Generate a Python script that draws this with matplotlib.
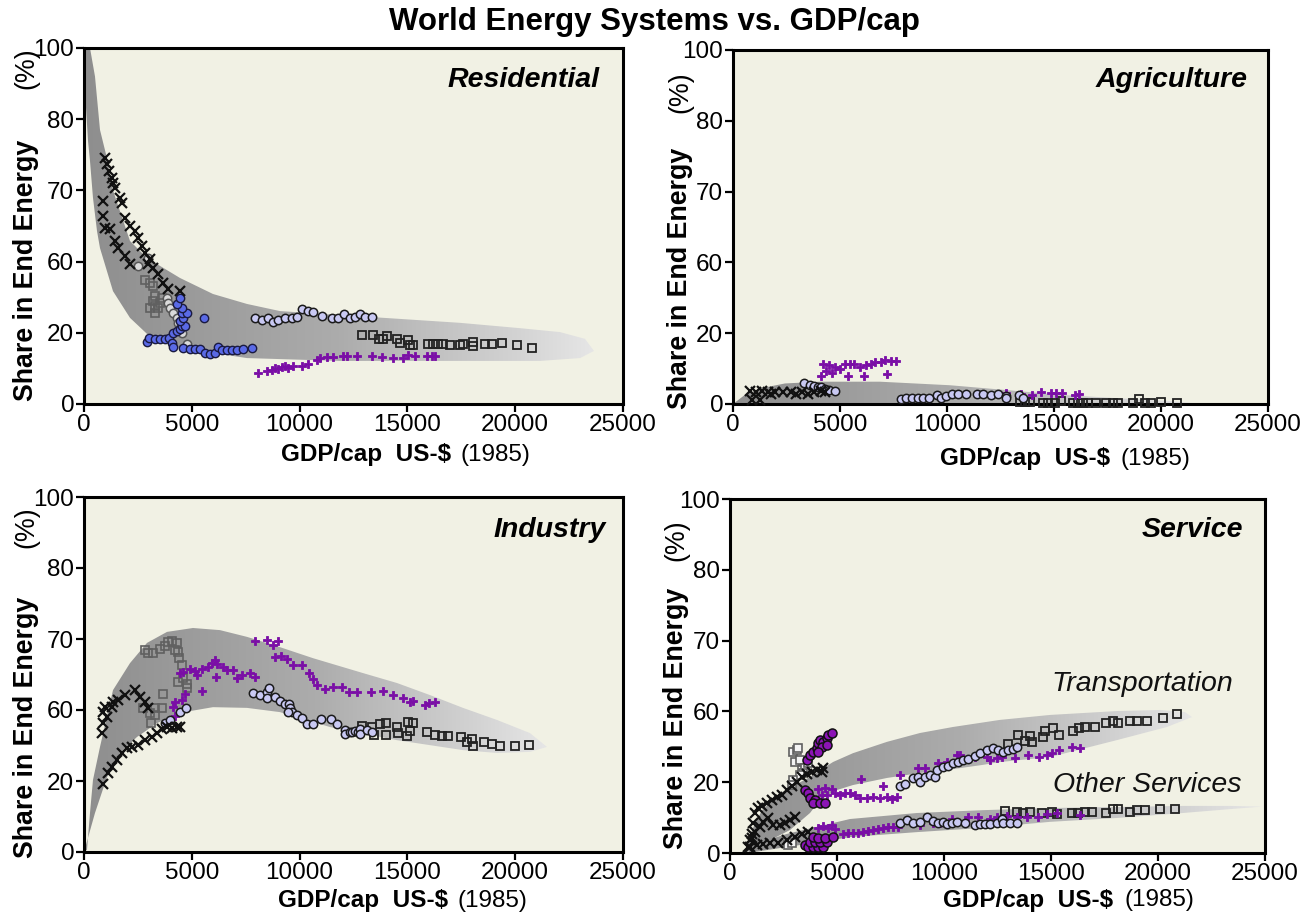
import numpy as np
import matplotlib.pyplot as plt
from matplotlib.patches import Polygon
from matplotlib.colors import LinearSegmentedColormap

plt.rcParams['font.family'] = ['Liberation Sans', 'DejaVu Sans']

# y values are read against the axis positions (ticks labelled 0,20,60,70,80,100)
y_ticks = [0, 20, 40, 60, 80, 100]
y_tick_labels = ['0', '20', '60', '70', '80', '100']
x_ticks = [0, 5000, 10000, 15000, 20000, 25000]

# ---------------- Residential ----------------
res_cross_x = [974, 1067, 1160, 1299, 1345, 1438, 1670, 1762, 1902, 2133, 2365, 2505, 2690, 2829, 3061, 3200, 3432, 3664, 3896, 4452,
               881, 881, 974, 1206, 1438, 1577, 1902, 2133, 2968]
res_cross_y = [69.1, 67.4, 65.4, 63.5, 62.1, 60.7, 57.9, 56.5, 52.2, 50.0, 48.6, 46.6, 44.4, 42.4, 40.7, 38.2, 36.5, 34.0, 32.3, 31.7,
               57.0, 52.8, 49.4, 49.2, 45.8, 43.8, 41.6, 39.3, 39.3]
res_sqg_x = [2829, 3061, 3200, 3293, 3200, 3293, 3061, 3432, 3293, 3618, 3525]
res_sqg_y = [34.8, 34.0, 33.1, 30.3, 28.9, 27.5, 27.0, 27.0, 25.6, 29.8, 28.4]
res_cg_x = [2505, 2968, 3850, 3896, 3989, 4128, 4313, 4360, 4452, 4545, 4777]
res_cg_y = [38.8, 41.0, 29.8, 28.4, 27.0, 25.6, 24.2, 22.8, 21.3, 19.9, 16.9]
res_blue_x = [2922, 3015, 3293, 3525, 3757, 3942, 4081, 4128, 4128, 4313, 4452, 4545, 4684, 4452, 4592, 4545, 4777, 4545,
              4313, 4452, 4592, 4916, 5148, 5380, 5612, 5844, 6076, 6215, 6400, 6632, 6864, 7096, 7374, 7792, 5566]
res_blue_y = [17.4, 18.5, 18.3, 18.3, 18.3, 18.5, 17.1, 16.0, 19.9, 20.5, 21.1, 21.9, 21.9, 23.3, 24.2, 25.6, 25.6, 27.0,
              28.1, 29.8, 15.7, 15.4, 15.4, 15.4, 14.3, 14.0, 14.3, 16.0, 15.2, 15.2, 15.2, 15.2, 15.4, 15.7, 24.2]
res_lav_x = [7931, 8256, 8534, 8766, 8998, 9322, 9647, 9879, 10111, 10389, 10621, 11039, 11502, 11781, 12059, 12337,
             12569, 12801, 13033, 13357]
res_lav_y = [24.2, 23.6, 24.2, 23.0, 23.6, 24.2, 24.2, 24.4, 26.7, 26.1, 25.8, 24.7, 24.2, 24.2, 25.3, 24.2,
             24.4, 25.3, 24.4, 24.4]
res_sq_x = [12894, 13404, 13682, 13868, 14053, 14517, 14656, 15027, 15120, 15259, 15955, 16187, 16419, 16650, 16975,
            17439, 17578, 18042, 18042, 18598, 18923, 19387, 20083, 20778]
res_sq_y = [19.4, 19.4, 18.3, 18.3, 19.1, 18.3, 17.1, 18.0, 16.6, 16.6, 16.9, 16.9, 16.9, 16.9, 16.6,
            16.6, 16.9, 17.4, 16.3, 16.9, 16.9, 17.1, 16.6, 15.7]
res_plus_x = [8070, 8488, 8719, 8859, 8998, 9183, 9322, 9462, 9694, 10111, 10389, 10807, 10946, 11270, 11549, 12012,
              12198, 12662, 13357, 13821, 14331, 14794, 15027, 15352, 15908, 16140, 16279]
res_plus_y = [8.7, 9.3, 9.6, 10.1, 9.8, 10.4, 10.7, 10.1, 10.7, 10.7, 11.2, 12.4, 12.9, 13.2, 13.2, 13.5,
              13.5, 13.5, 13.5, 13.2, 12.9, 12.9, 13.8, 13.5, 13.5, 13.5, 13.5]
res_up_x = [0, 278, 510, 742, 1067, 1345, 2133, 2922, 4452, 5983, 7560, 9091, 11873, 14656, 17439, 20222, 22077, 23237, 23654]
res_up_y = [108, 100, 92, 77, 69, 60, 45.8, 41.0, 35.4, 30.9, 28.1, 26.1, 25.0, 23.9, 22.8, 21.3, 20.2, 18.3, 14.9]
res_lo_x = [0, 186, 278, 417, 603, 742, 1345, 2133, 2922, 4452, 7560, 11873, 16975, 21150, 23005, 23654]
res_lo_y = [92.7, 73.9, 68.3, 57.9, 48.6, 43.8, 31.7, 24.2, 19.7, 15.7, 12.9, 12.1, 12.1, 12.1, 12.9, 14.9]

# ---------------- Agriculture ----------------
agr_cross_x = [813, 1083, 1350, 1620, 1798, 1980, 2340, 2699, 2965, 3236, 3507, 3773, 4133, 4315, 901, 1261]
agr_cross_y = [3.6, 3.3, 3.6, 3.3, 2.9, 3.3, 3.3, 3.3, 2.8, 3.3, 2.8, 3.3, 3.7, 3.3, 1.0, 1.0]
agr_lav_x = [3325, 3596, 3773, 3955, 4133, 4315, 4493, 4763, 7869, 8088, 8355, 8625, 8896, 9163, 9522, 9704, 9970,
             10241, 10512, 10872, 11409, 11680, 12039, 12399, 12758, 12758, 13384, 13567]
agr_lav_y = [6.0, 5.4, 5.1, 4.7, 4.9, 4.3, 4.0, 3.8, 1.3, 1.6, 1.8, 1.8, 1.6, 1.8, 2.5, 1.8, 2.2,
             2.7, 2.9, 2.9, 2.9, 2.7, 2.5, 2.9, 2.2, 1.6, 2.5, 1.8]
agr_plus_x = [4226, 4493, 4763, 4997, 5212, 5483, 5660, 5931, 6202, 6435, 6650, 6921, 7098, 7369, 7635,
              4133, 4352, 4637, 5394, 6108, 7187,
              12758, 13473, 13977, 14374, 14874, 15093, 15360, 15990, 16168]
agr_plus_y = [11.4, 10.9, 10.4, 10.0, 11.4, 11.4, 11.4, 10.4, 10.9, 11.4, 11.8, 12.0, 12.4, 12.2, 12.2,
              8.0, 9.3, 8.8, 8.0, 8.0, 8.6,
              3.0, 2.8, 2.5, 3.5, 3.0, 3.0, 3.0, 2.6, 2.8]
agr_sq_x = [13403, 13636, 13870, 14491, 14725, 15037, 15350, 15892, 16126, 16359, 16593, 16985, 17452, 17760, 17994,
            18694, 18974, 19240, 19553, 20020, 20749]
agr_sq_y = [0.6, 0.6, 0.6, 0.2, 0.4, 0.4, 0.9, 0.4, 0.4, 0.4, 0.4, 0.4, 0.4, 0.4, 0.4,
            0.4, 1.3, 0.4, 0.4, 0.6, 0.4]
agr_up_x = [0, 560, 1261, 2428, 4063, 6865, 10134, 12469, 15271, 18073, 20408, 21575]
agr_up_y = [0, 2.6, 4.4, 5.8, 6.3, 6.3, 5.3, 4.1, 2.6, 1.6, 0.85, 0.2]
agr_lo_x = [0, 21575]
agr_lo_y = [0, 0]

# ---------------- Industry ----------------
ind_cross_x = [835, 881, 881, 1067, 974, 1299, 1345, 1577, 1902, 2365, 2597, 2829, 2968,
               881, 1113, 1299, 1531, 1762, 1994, 2226, 2505, 2829, 3154, 3386, 3618, 3850, 4081, 4313, 4452]
ind_cross_y = [33.5, 36.3, 39.4, 38.0, 40.8, 40.8, 42.3, 42.8, 44.2, 45.6, 43.7, 42.3, 40.6,
               19.2, 22.3, 23.9, 25.9, 27.9, 29.3, 29.6, 30.1, 31.5, 32.4, 33.5, 34.6, 35.2, 34.9, 35.2, 35.2]
ind_sqg_x = [2829, 2968, 3200, 3525, 3757, 3896, 4081, 4313, 4221, 4360, 4406, 4545, 4592, 4360, 4777, 4777,
             3664, 2736, 3061, 3293, 3618, 3293, 3107]
ind_sqg_y = [56.9, 56.1, 56.1, 57.2, 58.0, 59.2, 59.4, 58.9, 56.9, 56.3, 54.6, 52.7, 49.0, 47.9, 47.3, 46.2,
             44.5, 40.6, 39.2, 40.6, 40.6, 38.6, 36.3]
ind_lav_x = [3757, 3989, 4452, 4731, 7838, 8163, 8488, 8580, 8488, 8859, 9091, 9322, 9508, 9554, 9647, 9462, 9879,
             10111, 10343, 10621, 10992, 11456, 11734, 12105, 12105, 12337, 12430, 12569, 12708, 12801, 12801, 13126, 13357]
ind_lav_y = [36.3, 37.2, 39.4, 40.6, 44.8, 44.2, 45.1, 46.2, 43.4, 43.7, 42.5, 41.7, 41.7, 40.6, 39.4, 39.4, 38.6,
             37.7, 36.1, 36.1, 37.5, 37.5, 36.1, 34.4, 33.2, 33.8, 33.8, 34.1, 33.8, 34.6, 33.2, 34.4, 33.8]
ind_sq_x = [12894, 13357, 13450, 13728, 14007, 14007, 14517, 14563, 15027, 15259, 15120, 14981, 15908, 16279, 16604,
            16882, 17485, 17764, 17995, 18042, 18552, 18923, 19294, 19990, 20639]
ind_sq_y = [35.5, 35.2, 33.0, 36.1, 36.3, 33.0, 35.2, 33.5, 36.6, 36.3, 34.1, 32.7, 33.8, 33.0, 32.7,
            32.7, 32.4, 31.0, 31.8, 29.9, 31.0, 30.4, 29.9, 29.9, 30.1]
ind_plus_x = [4452, 4592, 4916, 5148, 5241, 5473, 5751, 5937, 6076, 6169, 6447, 6632, 6911, 7096, 7328, 7699, 7931,
              6122, 5473, 4684, 4545, 4221, 4128, 4221,
              7931, 8488, 8766, 8998, 8859, 9137, 9415, 9694, 10111, 10436, 10621, 10807, 11178, 11549, 11966, 12291,
              12662, 13311, 13868, 14331, 14794, 15120, 15259, 15816, 16001, 16279]
ind_plus_y = [50.4, 50.7, 51.5, 51.0, 49.9, 51.5, 52.1, 53.2, 54.1, 53.0, 52.1, 51.3, 51.3, 49.0, 49.9, 50.4, 49.3,
              49.3, 45.4, 44.5, 42.8, 42.3, 40.8, 38.3,
              59.4, 59.7, 58.3, 59.4, 54.9, 55.2, 54.4, 52.7, 52.7, 50.4, 48.7, 47.0, 45.9, 46.5, 46.5, 45.1,
              45.1, 45.1, 45.4, 44.2, 43.4, 42.3, 42.5, 41.4, 42.0, 42.3]
ind_up_x = [0, 139, 278, 417, 742, 1345, 2133, 2922, 3850, 5055, 6308, 7560, 9091, 10621, 12940, 14517, 16048,
            17578, 19154, 20685, 21474]
ind_up_y = [0, 0.6, 11.0, 20.3, 29.6, 45.6, 53.2, 58.9, 62.0, 63.1, 62.5, 60.6, 57.7, 54.6, 50.4, 47.6, 44.2,
            40.6, 37.2, 33.5, 29.6]
ind_lo_x = [0, 510, 1067, 1670, 2458, 3386, 4452, 5983, 7560, 9091, 11410, 14517, 17578, 19154, 20685, 21474]
ind_lo_y = [0, 11.0, 21.1, 27.9, 32.4, 36.3, 39.2, 40.8, 40.6, 39.4, 35.2, 31.5, 28.7, 27.9, 28.2, 29.6]

# ---------------- Service ----------------
ser_cross_x = [855, 935, 1014, 1089, 1168, 1323, 1481, 1715, 1949, 2182, 2416, 2650, 2883, 3117, 3351, 3584, 3818,
               4052, 4285, 4360,
               1014, 1168, 1402, 1556, 1790, 2023, 2337, 2570, 2804, 3037,
               935, 1248, 1556, 1869, 2257, 2650, 3037, 3351, 3659]
ser_cross_y = [1.8, 3.7, 5.5, 8.4, 11.2, 12.6, 13.3, 14.0, 15.0, 15.7, 16.4, 17.8, 18.9, 20.1, 21.4, 22.3, 23.0,
               23.4, 23.0, 23.9,
               4.2, 6.0, 7.4, 8.8, 9.8, 7.9, 7.9, 8.4, 9.3, 10.1,
               1.8, 2.3, 2.5, 2.7, 2.9, 3.7, 4.6, 5.4, 6.0]
ser_sqg_x = [2958, 3117, 3192, 3037, 3271, 3351, 3505, 3425, 3271, 2958, 2883, 3659, 2724, 2883]
ser_sqg_y = [28.6, 29.1, 29.6, 25.8, 26.3, 23.4, 23.9, 22.5, 22.0, 20.6, 19.2, 25.3, 2.3, 2.7]
ser_pc_x = [3584, 3738, 3893, 4052, 4126, 4206, 4360, 4519, 4594, 4752, 4285, 4519, 4126,
            3505, 3659, 3738, 3972, 3893, 4206, 4439,
            3505, 3659, 3893, 4126, 4360, 3738, 3972, 4206, 4519, 3893, 4126, 4439, 4827]
ser_pc_y = [26.3, 27.7, 28.6, 29.6, 31.0, 31.9, 31.4, 32.4, 33.3, 33.8, 30.0, 30.5, 28.6,
            17.8, 16.9, 15.5, 15.0, 14.0, 14.0, 14.0,
            2.3, 1.8, 1.8, 1.8, 1.8, 3.2, 3.2, 3.2, 3.2, 4.6, 4.2, 4.2, 4.4]
tr_plus_x = [4126, 4439, 4752, 4285, 4519, 4907, 5140, 5374, 5608, 5841, 6075, 6388, 6696, 7010, 7323, 7556, 7790,
             6122, 7164, 7944, 8799, 9112, 9734, 10127, 10594, 10748, 11449, 11996, 12150, 12463, 12697, 13318,
             13940, 14454, 14800, 15033, 15388, 15968, 16356]
tr_plus_y = [18.0, 18.3, 18.0, 16.4, 16.4, 16.9, 16.4, 17.0, 16.9, 16.4, 15.5, 15.5, 15.9, 15.5, 15.9, 15.2, 15.9,
             20.8, 18.9, 22.0, 23.9, 23.9, 25.3, 25.8, 27.7, 27.8, 27.2, 27.2, 26.3, 26.8, 27.2, 26.8,
             27.7, 27.2, 27.7, 28.3, 29.1, 29.9, 29.6]
os_plus_x = [4126, 4360, 4594, 4752, 4907, 5294, 5528, 5762, 5995, 6229, 6463, 6696, 6930, 7164, 7397, 7631, 7865,
             8491, 8879, 9500, 9813, 10360, 11136, 11603, 12150, 12463, 12930, 13398, 13865, 14407, 14800, 15267, 16356]
os_plus_y = [7.0, 7.6, 7.0, 7.9, 6.7, 5.4, 5.6, 5.6, 5.7, 6.0, 6.3, 6.5, 6.7, 7.0, 7.3, 7.4, 7.3,
             8.4, 7.9, 8.6, 8.4, 9.5, 10.1, 10.1, 9.5, 10.1, 10.5, 10.3, 10.1, 10.3, 11.0, 11.2, 10.7]
tr_lav_x = [7944, 8178, 8566, 8799, 8879, 9112, 9346, 9580, 9659, 9968, 10201, 10435, 10668, 10902, 11136, 11449,
            11683, 11996, 12304, 12538, 12771, 13005, 13239, 13398]
tr_lav_y = [18.9, 19.5, 21.1, 21.6, 20.1, 21.6, 22.0, 21.6, 23.4, 24.4, 24.6, 25.3, 25.8, 26.3, 26.5, 27.4,
            28.3, 29.1, 29.6, 29.1, 28.6, 29.1, 29.3, 29.9]
os_lav_x = [7944, 8258, 8566, 8879, 9220, 9500, 9734, 9968, 10127, 10360, 10594, 10982, 11449, 11683, 11916, 12150,
            12463, 12697, 12771, 13084, 13398]
os_lav_y = [8.6, 9.3, 8.6, 8.8, 10.1, 9.1, 8.6, 8.8, 8.2, 8.4, 8.7, 8.4, 7.9, 8.2, 8.2, 8.2,
            8.6, 9.5, 8.6, 8.4, 8.6]
tr_sq_x = [13005, 13472, 13785, 14019, 14098, 14613, 14720, 15108, 15388, 16042, 16323, 16589, 17056, 17570, 17912,
           18146, 18692, 19005, 19472, 20248, 20874]
tr_sq_y = [30.8, 33.3, 31.7, 33.1, 31.4, 32.9, 34.5, 35.2, 33.3, 34.5, 35.2, 35.7, 35.7, 36.6, 37.4,
           36.8, 37.4, 37.4, 37.4, 38.1, 39.3]
os_sq_x = [12851, 13398, 13706, 14019, 14566, 15033, 15267, 15968, 16276, 16589, 16902, 17570, 17912, 18146, 18692,
           19005, 19393, 20094, 20795]
os_sq_y = [11.9, 11.7, 11.4, 11.7, 11.2, 11.7, 11.0, 11.4, 11.4, 11.7, 11.7, 11.4, 12.3, 12.3, 11.7,
           12.1, 12.1, 12.3, 12.3]
tr_up_x = [701, 1028, 1495, 2337, 3738, 4813, 5748, 7337, 8879, 10421, 12617, 14954, 18085, 20094, 21262, 21589]
tr_up_y = [0, 6.5, 12.1, 16.9, 21.5, 25.7, 28.2, 31.4, 33.9, 35.6, 37.6, 39.0, 40.1, 40.4, 39.8, 38.4]
tr_lo_x = [701, 2804, 3738, 4206, 5000, 5748, 7337, 8879, 10421, 11823, 12617, 14954, 18085, 20421, 21589]
tr_lo_y = [0, 6.5, 11.3, 15.0, 17.8, 19.2, 21.2, 22.6, 23.7, 24.9, 25.7, 27.1, 31.9, 35.6, 38.4]
os_up_x = [841, 1028, 2664, 4206, 5608, 8739, 11823, 14954, 18085, 21169, 23365, 24860]
os_up_y = [0, 2.3, 5.4, 7.6, 9.6, 11.3, 12.1, 12.7, 13.0, 13.3, 13.3, 13.1]
os_lo_x = [841, 2337, 4206, 5608, 8739, 11823, 14954, 18085, 21169, 23365, 24860]
os_lo_y = [0, 1.4, 3.1, 4.5, 5.9, 7.1, 8.8, 9.9, 11.3, 12.4, 13.1]

# ---------------- styles ----------------
CROSS = dict(marker='x', ms=7, mew=1.6, color='#111111', ls='none')
SQ = dict(marker='s', ms=5.5, mew=1.3, mfc='none', mec='#222222', ls='none')
SQG = dict(marker='s', ms=5.5, mew=1.2, mfc='none', mec='#606060', ls='none')
LAV = dict(marker='o', ms=6, mew=1.1, mfc='#c9c9f3', mec='#1a1a1a', ls='none')
CGRAY = dict(marker='o', ms=6, mew=1.1, mfc='#dadada', mec='#555555', ls='none')
BLUE = dict(marker='o', ms=6, mew=1.0, mfc='#5a6ae6', mec='#1a1a40', ls='none')
PCIRC = dict(marker='o', ms=6.5, mew=1.1, mfc='#8b14b5', mec='#111111', ls='none')
PLUS = dict(marker='P', ms=6.0, mew=0.6, mfc='#7a0ea6', mec='#7a0ea6', ls='none')

band_cmap = LinearSegmentedColormap.from_list(
    'band', [(0, '#8e8e8e'), (0.5, '#acacac'), (0.85, '#d3d3d3'), (1.0, '#e6e6e6')])

W, H = 1308, 915
fig = plt.figure(figsize=(W / 100, H / 100), dpi=100)


def box(l, t, r, b):
    return [l / W, 1 - b / H, (r - l) / W, (b - t) / H]


def ftext(x, y, s, **kw):
    fig.text(x / W, 1 - y / H, s, **kw)


def band(ax, ux, uy, lx, ly):
    verts = list(zip(ux, uy)) + list(zip(lx[::-1], ly[::-1]))
    poly = Polygon(verts, closed=True, facecolor='none', edgecolor='none')
    ax.add_patch(poly)
    grad = np.linspace(0, 1, 256).reshape(1, -1)
    im = ax.imshow(grad, extent=[0, max(ux), -5, 110], aspect='auto', cmap=band_cmap,
                   origin='lower', zorder=1, interpolation='bilinear')
    im.set_clip_path(poly)


def style_axes(ax):
    ax.set_facecolor('#f1f1e4')
    ax.set_xlim(0, 25000)
    ax.set_ylim(0, 100)
    ax.set_xticks(x_ticks)
    ax.set_xticklabels([str(v) for v in x_ticks])
    ax.set_yticks(y_ticks)
    ax.set_yticklabels(y_tick_labels)
    for s in ax.spines.values():
        s.set_linewidth(2.2)
    ax.tick_params(direction='out', length=6, width=1.6, labelsize=17.5, pad=1)


def pts(ax, x, y, st):
    ax.plot(x, y, zorder=3, clip_on=False, **st)


ax_res = fig.add_axes(box(84, 48, 623, 404))
ax_agr = fig.add_axes(box(733, 50, 1268, 404))
ax_ind = fig.add_axes(box(84, 497, 623, 852))
ax_ser = fig.add_axes(box(730, 499, 1265, 853))

# residential
band(ax_res, res_up_x, res_up_y, res_lo_x, res_lo_y)
pts(ax_res, res_sq_x, res_sq_y, SQ)
pts(ax_res, res_sqg_x, res_sqg_y, SQG)
pts(ax_res, res_plus_x, res_plus_y, PLUS)
pts(ax_res, res_lav_x, res_lav_y, LAV)
pts(ax_res, res_cg_x, res_cg_y, CGRAY)
pts(ax_res, res_blue_x, res_blue_y, BLUE)
pts(ax_res, res_cross_x, res_cross_y, CROSS)

# agriculture
band(ax_agr, agr_up_x, agr_up_y, agr_lo_x, agr_lo_y)
pts(ax_agr, agr_sq_x, agr_sq_y, SQ)
pts(ax_agr, agr_plus_x, agr_plus_y, PLUS)
pts(ax_agr, agr_lav_x, agr_lav_y, LAV)
pts(ax_agr, agr_cross_x, agr_cross_y, CROSS)

# industry
band(ax_ind, ind_up_x, ind_up_y, ind_lo_x, ind_lo_y)
pts(ax_ind, ind_sq_x, ind_sq_y, SQ)
pts(ax_ind, ind_sqg_x, ind_sqg_y, SQG)
pts(ax_ind, ind_plus_x, ind_plus_y, PLUS)
pts(ax_ind, ind_lav_x, ind_lav_y, LAV)
pts(ax_ind, ind_cross_x, ind_cross_y, CROSS)

# service
band(ax_ser, tr_up_x, tr_up_y, tr_lo_x, tr_lo_y)
band(ax_ser, os_up_x, os_up_y, os_lo_x, os_lo_y)
pts(ax_ser, tr_sq_x, tr_sq_y, SQ)
pts(ax_ser, os_sq_x, os_sq_y, SQ)
pts(ax_ser, tr_plus_x, tr_plus_y, PLUS)
pts(ax_ser, os_plus_x, os_plus_y, PLUS)
pts(ax_ser, tr_lav_x, tr_lav_y, LAV)
pts(ax_ser, os_lav_x, os_lav_y, LAV)
pts(ax_ser, ser_sqg_x, ser_sqg_y, dict(SQG, mfc='#f4f4f4'))
pts(ax_ser, ser_cross_x, ser_cross_y, CROSS)
pts(ax_ser, ser_pc_x, ser_pc_y, PCIRC)

for ax in (ax_res, ax_agr, ax_ind, ax_ser):
    style_axes(ax)

# texts
ftext(654, 22, 'World Energy Systems vs. GDP/cap', ha='center', va='center', fontsize=22.5, fontweight='bold')
ttl = dict(ha='right', va='center', fontsize=20.5, fontweight='bold', style='italic')
ftext(600, 80, 'Residential', **ttl)
ftext(1248, 80, 'Agriculture', **ttl)
ftext(606, 530, 'Industry', **ttl)
ftext(1243, 530, 'Service', **ttl)
ftext(1142, 684, 'Transportation', ha='center', va='center', fontsize=20.5, style='italic', color='#111111')
ftext(1147, 785, 'Other Services', ha='center', va='center', fontsize=20.5, style='italic', color='#111111')

ylb = dict(rotation=90, ha='center', va='center', fontsize=19.3)
for x, yb, yp in [(26, 270, 68), (680, 278, 92), (26, 727, 527), (676, 718, 540)]:
    ftext(x, yb, 'Share in End Energy', fontweight='bold', **ylb)
    ftext(x, yp, '(%)', **ylb)

for xr, xl, y in [(451, 460, 455), (1110, 1120, 459), (448, 458, 901), (1113, 1125, 900)]:
    ftext(xr, y, 'GDP/cap  US-$', ha='right', va='center', fontsize=17.5, fontweight='bold')
    ftext(xl, y, '(1985)', ha='left', va='center', fontsize=17.5)

fig.savefig('out.png', dpi=100)
